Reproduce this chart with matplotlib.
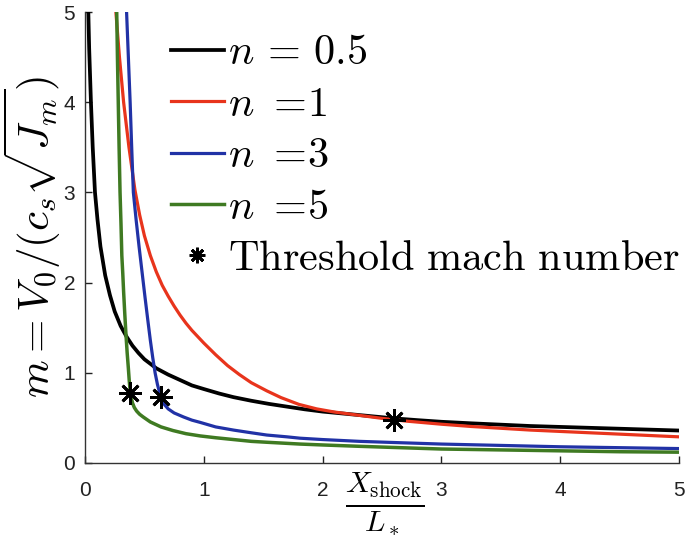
import matplotlib
matplotlib.use("Agg")
import matplotlib.pyplot as plt

plt.rcParams['mathtext.fontset'] = 'cm'
plt.rcParams['font.family'] = ['Liberation Sans', 'DejaVu Sans']

# ---- data ----
x_n05 = [0.028, 0.035, 0.05, 0.065, 0.084, 0.105, 0.13, 0.17, 0.21, 0.25, 0.30, 0.35, 0.40,
         0.45, 0.50, 0.55, 0.60, 0.70, 0.80, 0.90, 1.00, 1.13, 1.25, 1.40, 1.55, 1.70, 1.85,
         2.00, 2.20, 2.40, 2.60, 2.80, 3.00, 3.25, 3.50, 3.75, 4.00, 4.25, 4.50, 4.75, 5.00]
y_n05 = [5.0, 4.6, 4.0, 3.5, 3.0, 2.7, 2.4, 2.08, 1.86, 1.68, 1.52, 1.40, 1.30,
         1.22, 1.15, 1.10, 1.05, 0.98, 0.92, 0.86, 0.82, 0.77, 0.73, 0.69, 0.655, 0.625, 0.595,
         0.57, 0.545, 0.52, 0.495, 0.475, 0.457, 0.44, 0.425, 0.41, 0.40, 0.39, 0.38, 0.37, 0.36]

x_n1 = [0.26, 0.29, 0.325, 0.37, 0.42, 0.46, 0.50, 0.55, 0.60, 0.65, 0.70, 0.75, 0.80,
        0.85, 0.90, 0.95, 1.00, 1.10, 1.20, 1.30, 1.40, 1.53, 1.65, 1.80, 1.95, 2.10,
        2.30, 2.50, 2.70, 3.00, 3.25, 3.50, 3.75, 4.00, 4.50, 5.00]
y_n1 = [5.0, 4.5, 4.0, 3.5, 3.03, 2.75, 2.52, 2.30, 2.12, 1.97, 1.85, 1.74, 1.64,
        1.55, 1.47, 1.40, 1.33, 1.20, 1.08, 0.98, 0.89, 0.80, 0.725, 0.65, 0.60, 0.565,
        0.53, 0.495, 0.465, 0.43, 0.405, 0.385, 0.365, 0.35, 0.32, 0.29]

x_n3 = [0.35, 0.365, 0.38, 0.393, 0.407, 0.43, 0.455, 0.48, 0.505, 0.53, 0.55, 0.57, 0.59,
        0.61, 0.63, 0.65, 0.67, 0.70, 0.75, 0.83, 0.90, 0.97, 1.10, 1.25, 1.40, 1.53, 1.70,
        1.81, 2.00, 2.31, 2.65, 3.00, 3.50, 4.00, 4.50, 5.00]
y_n3 = [5.0, 4.5, 4.0, 3.5, 3.0, 2.7, 2.4, 2.12, 1.84, 1.57, 1.36, 1.17, 1.0,
        0.87, 0.77, 0.70, 0.645, 0.60, 0.555, 0.51, 0.475, 0.45, 0.40, 0.365, 0.335, 0.31, 0.29,
        0.275, 0.26, 0.24, 0.225, 0.21, 0.195, 0.18, 0.17, 0.16]

x_n5 = [0.267, 0.273, 0.28, 0.287, 0.295, 0.303, 0.31, 0.318, 0.325, 0.335, 0.345, 0.355,
        0.365, 0.372, 0.38, 0.39, 0.40, 0.415, 0.435, 0.46, 0.49, 0.55, 0.64, 0.74, 0.85,
        0.97, 1.10, 1.25, 1.40, 1.53, 1.81, 2.00, 2.31, 2.65, 3.00, 3.50, 4.00, 4.50, 5.00]
y_n5 = [5.0, 4.5, 4.0, 3.5, 3.0, 2.65, 2.3, 2.1, 1.9, 1.65, 1.42, 1.22,
        1.05, 0.92, 0.80, 0.72, 0.665, 0.615, 0.575, 0.54, 0.51, 0.455, 0.40, 0.36, 0.325,
        0.30, 0.28, 0.26, 0.24, 0.23, 0.21, 0.20, 0.185, 0.17, 0.155, 0.145, 0.135, 0.125, 0.12]

x_thr = [0.38, 0.64, 2.60]
y_thr = [0.78, 0.73, 0.48]

labels = [r"$n\,=\,0.5$", r"$n\ {=}\!1$", r"$n\ {=}\!3$", r"$n\ {=}\!5$",
          r"$\mathrm{Threshold\ mach\ number}$"]
xticks = [0, 1, 2, 3, 4, 5]
yticks = [0, 1, 2, 3, 4, 5]

fig = plt.figure(figsize=(6.88, 5.44), dpi=100)
ax = fig.add_axes([85/688, 1-463/544, (679-85)/688, (463-12)/544])

ax.plot(x_n05, y_n05, color='black', lw=2.7, label=labels[0])
ax.plot(x_n1, y_n1, color='#e8341c', lw=2.3, label=labels[1])
ax.plot(x_n3, y_n3, color='#2132a6', lw=2.3, label=labels[2])
ax.plot(x_n5, y_n5, color='#3f7a22', lw=2.5, label=labels[3])
ax.plot(x_thr, y_thr, linestyle='none', marker=(8, 2, 0), markersize=16,
        markeredgewidth=2.0, color='black', label=labels[4])

ax.set_xlim(0, 5)
ax.set_ylim(0, 5)
ax.set_xticks(xticks)
ax.set_yticks(yticks)
ax.spines['top'].set_visible(False)
ax.spines['right'].set_visible(False)
for s in ('left', 'bottom'):
    ax.spines[s].set_linewidth(1.0)
    ax.spines[s].set_color('#333333')
ax.tick_params(direction='in', length=5, width=1, labelsize=15, colors='#222222')
ax.tick_params(axis='x', pad=13)
ax.tick_params(axis='y', pad=7)

ax.set_ylabel(r"$m = V_0/(c_s\sqrt{J_m})$", fontsize=31)
ax.yaxis.set_label_coords(-0.037, 0.5)
ax.set_xlabel(r"$\frac{X_{\mathrm{shock}}}{L_*}$", fontsize=31)
ax.xaxis.set_label_coords(0.505, -0.088)
ax.xaxis.label.set_va('center')

leg = ax.legend(loc='upper right', bbox_to_anchor=(1.03, 0.99), frameon=False,
                fontsize=30.5, handlelength=1.25, handletextpad=0.1,
                labelspacing=0.27, borderaxespad=0.0, markerscale=0.7)

fig.savefig('out.png', dpi=100)
